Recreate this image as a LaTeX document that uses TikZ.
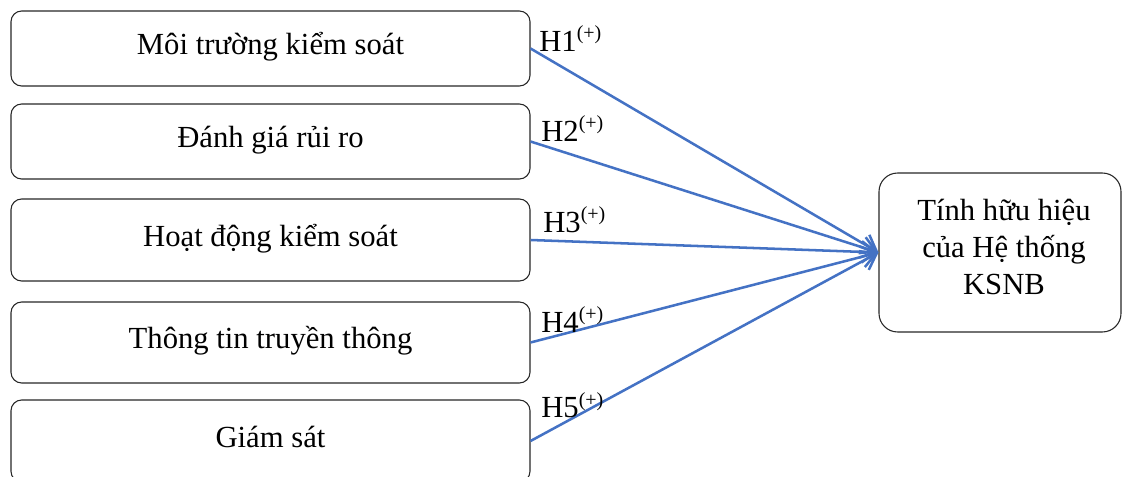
\documentclass[tikz,border=0pt]{standalone}
\usepackage{fontspec}
\setmainfont{Liberation Serif}
\usetikzlibrary{arrows.meta}
\definecolor{linkblue}{RGB}{68,114,196}
% superscript sign after each hypothesis number
\newcommand{\hsign}{\raisebox{9pt}{\fontsize{15}{15}\selectfont(+)}}
\begin{document}
\begin{tikzpicture}[x=0.75pt,y=-0.75pt,
  factor/.style={draw=black!85, line width=0.8pt, rounded corners=8pt,
    minimum width=389.25pt, inner sep=0pt,
    font=\fontsize{23}{27}\selectfont, text height=12.5pt, text depth=2.8pt},
  outcome/.style={draw=black!85, line width=0.8pt, rounded corners=14pt,
    minimum width=181.5pt, minimum height=119.25pt, inner sep=0pt},
  outtext/.style={align=center, inner sep=0pt,
    font=\fontsize{23}{28}\selectfont},
  hyp/.style={inner sep=0pt, font=\fontsize{23}{27}\selectfont},
  link/.style={draw=linkblue, line width=1.9pt,
    -{Straight Barb[length=11pt,width=16pt]}}
]
\useasboundingbox (0,0) rectangle (1122,477);
\clip (0,0) rectangle (1122,477);

% the five components
\node[factor, minimum height=56.25pt] (env)   at (270.5,48.5)  {Môi trường kiểm soát};
\node[factor, minimum height=56.25pt] (risk)  at (270.5,141.5) {Đánh giá rủi ro};
\node[factor, minimum height=61.5pt]  (ctrl)  at (270.5,240)   {Hoạt động kiểm soát};
\node[factor, minimum height=60.75pt] (info)  at (270.5,342.5) {Thông tin truyền thông};
\node[factor, minimum height=61.5pt]  (monit) at (270.5,441)   {Giám sát};

% the outcome
\node[outcome] (goal) at (1000,252.5) {};
\node[outtext] (goaltext) at (1004,247) {Tính hữu hiệu\\của Hệ thống\\KSNB};

% hypotheses
\draw[link] (env.east)   -- (goal.west);
\draw[link] (risk.east)  -- (goal.west);
\draw[link] (ctrl.east)  -- (goal.west);
\draw[link] (info.east)  -- (goal.west);
\draw[link] (monit.east) -- (goal.west);

\node[hyp, anchor=base west] (h1) at (539,52)  {H1\hsign};
\node[hyp, anchor=base west] (h2) at (541,142) {H2\hsign};
\node[hyp, anchor=base west] (h3) at (543,233) {H3\hsign};
\node[hyp, anchor=base west] (h4) at (541,333) {H4\hsign};
\node[hyp, anchor=base west] (h5) at (541,418) {H5\hsign};
\end{tikzpicture}
\end{document}
